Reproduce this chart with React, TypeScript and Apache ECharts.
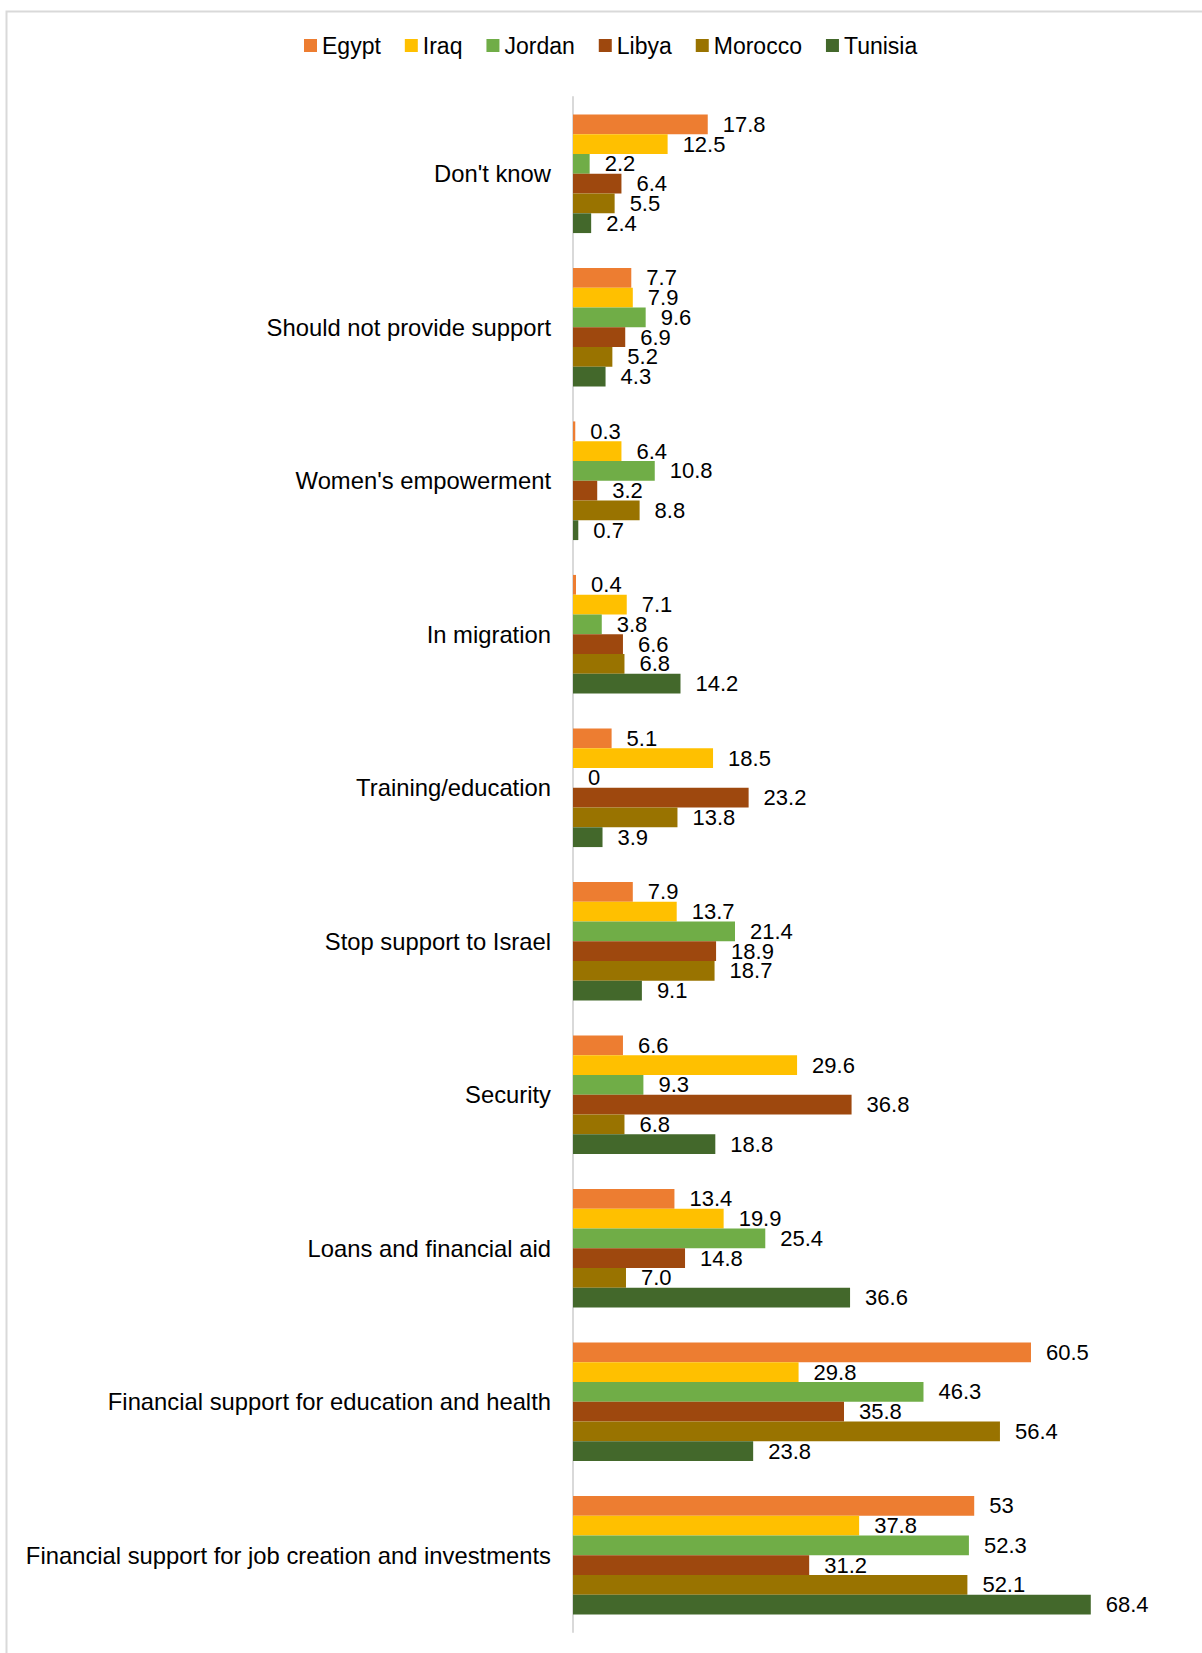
import React, { useEffect, useRef } from "react";
import * as echarts from "echarts";

const categories = [
  "Don't know",
  "Should not provide support",
  "Women's empowerment",
  "In migration",
  "Training/education",
  "Stop support to Israel",
  "Security",
  "Loans and financial aid",
  "Financial support for education and health",
  "Financial support for job creation and investments",
];

const egypt = [17.8, 7.7, 0.3, 0.4, 5.1, 7.9, 6.6, 13.4, 60.5, 53];
const iraq = [12.5, 7.9, 6.4, 7.1, 18.5, 13.7, 29.6, 19.9, 29.8, 37.8];
const jordan = [2.2, 9.6, 10.8, 3.8, 0, 21.4, 9.3, 25.4, 46.3, 52.3];
const libya = [6.4, 6.9, 3.2, 6.6, 23.2, 18.9, 36.8, 14.8, 35.8, 31.2];
const morocco = [5.5, 5.2, 8.8, 6.8, 13.8, 18.7, 6.8, 7.0, 56.4, 52.1];
const tunisia = [2.4, 4.3, 0.7, 14.2, 3.9, 9.1, 18.8, 36.6, 23.8, 68.4];

const seriesNames = ["Egypt", "Iraq", "Jordan", "Libya", "Morocco", "Tunisia"];
const seriesData = [egypt, iraq, jordan, libya, morocco, tunisia];
const colors = ["#ED7D31", "#FFC000", "#70AD47", "#9E480E", "#997300", "#43682B"];

// labels shown with a trailing ".0" in the original
const labelOverrides: { series: string; category: string; text: string }[] = [
  { series: "Morocco", category: "Loans and financial aid", text: "7.0" },
];

const FONT = "'Liberation Sans', Arial, sans-serif";

export default function App() {
  const ref = useRef<HTMLDivElement>(null);

  useEffect(() => {
    if (!ref.current) return;
    const chart = echarts.init(ref.current, null, { renderer: "svg" });
    chart.setOption({
      animation: false,
      backgroundColor: "#ffffff",
      textStyle: { fontFamily: FONT },
      graphic: [
        {
          type: "rect",
          left: 4,
          top: 9,
          shape: { x: 0, y: 0, width: 1400, height: 1800 },
          style: { fill: "none", stroke: "#d9d9d9", lineWidth: 2 },
          silent: true,
          z: -1,
        },
      ],
      legend: {
        top: 29,
        left: 299,
        itemWidth: 13,
        itemHeight: 13,
        itemGap: 24,
        icon: "rect",
        textStyle: { fontSize: 23, color: "#000", fontFamily: FONT },
        data: seriesNames,
      },
      grid: { left: 573, top: 97, width: 605.6, height: 1535, containLabel: false },
      xAxis: {
        type: "value",
        min: 0,
        max: 80,
        show: false,
      },
      yAxis: {
        type: "category",
        inverse: true,
        data: categories,
        axisLine: { show: true, lineStyle: { color: "#d9d9d9", width: 2 } },
        axisTick: { show: false },
        axisLabel: { fontSize: 23.8, color: "#000", margin: 22, fontFamily: FONT },
      },
      series: seriesNames.map((name, i) => ({
        name,
        type: "bar",
        data: seriesData[i],
        barGap: "0%",
        barCategoryGap: "22.7%",
        itemStyle: { color: colors[i] },
        label: {
          show: true,
          position: "right",
          distance: 15,
          fontSize: 22,
          color: "#000",
          fontFamily: FONT,
          formatter: (p: any) => {
            const o = labelOverrides.find(
              (l) => l.series === p.seriesName && l.category === p.name
            );
            return o ? o.text : String(p.value);
          },
        },
      })),
    });
    return () => chart.dispose();
  }, []);

  return (
    <div
      ref={ref}
      style={{ position: "absolute", left: 0, top: 0, width: 1202, height: 1653 }}
    />
  );
}
